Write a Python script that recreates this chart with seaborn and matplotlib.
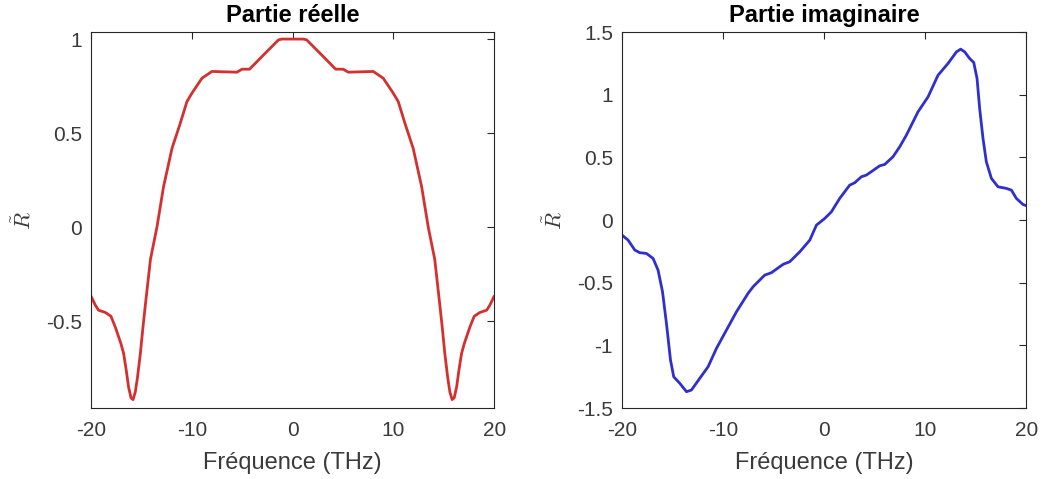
import numpy as np
import pandas as pd
import matplotlib
matplotlib.use("Agg")
import matplotlib.pyplot as plt
import seaborn as sns

# Partie réelle
freq_re = [-20, -19.57, -19.25, -18.58, -18.02, -17.59, -17.03, -16.76, -16.5, -16.27,
           -16.03, -15.83, -15.6, -15.38, -15.1, -14.84, -14.6, -14.1, -13.45, -12.8,
           -11.96, -11.14, -10.48, -9.98, -8.99, -8.0, -5.52, -5.02, -4.27, -2.88,
           -1.39, -1.05, 0.0, 1.05, 1.39, 2.88, 4.27, 5.02, 5.52, 8.0,
           8.99, 9.98, 10.48, 11.14, 11.96, 12.8, 13.45, 14.1, 14.6, 14.84,
           15.1, 15.38, 15.6, 15.83, 16.03, 16.27, 16.5, 16.76, 17.03, 17.59,
           18.02, 18.58, 19.25, 19.57, 20]
r_re = [-0.365, -0.413, -0.44, -0.452, -0.472, -0.529, -0.617, -0.67, -0.759, -0.848,
        -0.905, -0.915, -0.874, -0.795, -0.67, -0.529, -0.41, -0.17, 0.003, 0.216,
        0.42, 0.553, 0.668, 0.713, 0.792, 0.828, 0.824, 0.84, 0.84, 0.916,
        0.996, 1.0, 1.0, 1.0, 0.996, 0.916, 0.84, 0.84, 0.824, 0.828,
        0.792, 0.713, 0.668, 0.553, 0.42, 0.216, 0.003, -0.17, -0.41, -0.529,
        -0.67, -0.795, -0.874, -0.915, -0.905, -0.848, -0.759, -0.67, -0.617, -0.529,
        -0.472, -0.452, -0.44, -0.413, -0.365]

# Partie imaginaire
freq_im = [-20, -19.4, -18.74, -18.25, -17.59, -16.93, -16.44, -16.0, -15.61, -15.21,
           -14.89, -14.29, -13.63, -13.14, -12.31, -11.49, -10.66, -9.67, -8.68, -7.54,
           -7.04, -5.89, -5.23, -4.07, -3.41, -2.42, -1.43, -0.77, 0.05, 0.71,
           1.53, 2.52, 3.02, 3.68, 4.17, 5.49, 5.98, 6.8, 7.47, 8.13,
           9.28, 10.27, 11.26, 12.25, 13.08, 13.5, 13.9, 14.39, 14.79, 15.12,
           15.38, 15.71, 16.04, 16.54, 17.19, 18.02, 18.52, 19.01, 19.66, 20]
r_im = [-0.12, -0.16, -0.239, -0.26, -0.266, -0.306, -0.399, -0.571, -0.824, -1.116,
        -1.25, -1.302, -1.369, -1.356, -1.262, -1.17, -1.023, -0.877, -0.731, -0.585,
        -0.532, -0.439, -0.42, -0.353, -0.332, -0.253, -0.16, -0.04, 0.013, 0.066,
        0.173, 0.279, 0.298, 0.346, 0.359, 0.433, 0.444, 0.505, 0.585, 0.678,
        0.864, 0.983, 1.156, 1.25, 1.342, 1.364, 1.342, 1.289, 1.258, 1.13,
        0.89, 0.651, 0.465, 0.333, 0.266, 0.253, 0.239, 0.173, 0.125, 0.115]

x_ticks = [-20, -10, 0, 10, 20]

sns.set_style("white")
plt.rcParams['font.family'] = ['Liberation Sans', 'DejaVu Sans']
plt.rcParams['mathtext.fontset'] = 'cm'
plt.rcParams['axes.unicode_minus'] = False

grey = '#262626'
label_grey = '#3a3a3a'
fig = plt.figure(figsize=(10.42, 4.79), dpi=100)
ax1 = fig.add_axes([0.0873, 0.148, 0.387, 0.785])
ax2 = fig.add_axes([0.597, 0.148, 0.388, 0.785])

df_re = pd.DataFrame({'f': freq_re, 'r': r_re})
df_im = pd.DataFrame({'f': freq_im, 'r': r_im})
sns.lineplot(data=df_re, x='f', y='r', ax=ax1, color='#d43030', linewidth=2.0)
sns.lineplot(data=df_im, x='f', y='r', ax=ax2, color='#2f2fd0', linewidth=2.0)

ax1.set_ylim(-0.96, 1.037)
ax1.set_yticks([-0.5, 0, 0.5, 1])
ax1.set_yticklabels(['-0.5', '0', '0.5', '1'])
ax1.set_title('Partie réelle', fontsize=17, fontweight='bold', color='black', pad=7.5)

ax2.set_ylim(-1.5, 1.5)
ax2.set_yticks([-1.5, -1, -0.5, 0, 0.5, 1, 1.5])
ax2.set_yticklabels(['-1.5', '-1', '-0.5', '0', '0.5', '1', '1.5'])
ax2.set_title('Partie imaginaire', fontsize=17, fontweight='bold', color='black', pad=7.5)

for ax in (ax1, ax2):
    ax.set_xlim(-20, 20)
    ax.set_xticks(x_ticks)
    ax.set_xticklabels([str(t) for t in x_ticks])
    ax.set_xlabel('Fréquence (THz)', fontsize=17, color=label_grey, labelpad=9)
    ax.set_ylabel(r'$\tilde{R}$', fontsize=16, color=label_grey)
    ax.yaxis.set_label_coords(-0.138, 0.5)
    ax.tick_params(direction='in', length=5, width=0.8, top=True, right=True,
                   labelsize=15, colors=grey, labelcolor=label_grey)
    ax.tick_params(axis='x', pad=9)
    ax.tick_params(axis='y', pad=6.5)
    for s in ax.spines.values():
        s.set_color(grey)
        s.set_linewidth(0.8)

fig.savefig('out.png', dpi=100)
